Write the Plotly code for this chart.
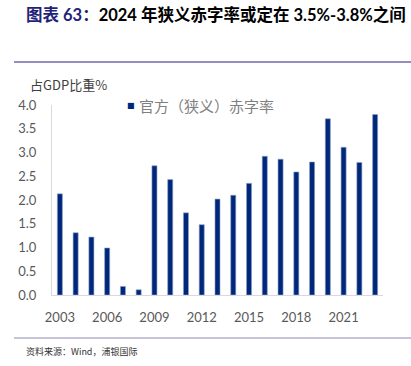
import plotly.graph_objects as go

years = [str(y) for y in range(2003, 2024)]
deficit = [2.13, 1.31, 1.22, 0.99, 0.18, 0.11, 2.72, 2.43, 1.73, 1.48, 2.02, 2.10,
           2.35, 2.92, 2.86, 2.59, 2.80, 3.71, 3.11, 2.79, 3.80]
tick_labels = ["2003", "2006", "2009", "2012", "2015", "2018", "2021"]
y_ticks = [0.0, 0.5, 1.0, 1.5, 2.0, 2.5, 3.0, 3.5, 4.0]

series_name = "官方（狭义）赤字率"
bar_color = "#00287A"
LATIN = "Lato, 'Noto Sans CJK SC', sans-serif"
CJK = "'Noto Sans CJK SC', sans-serif"

fig = go.Figure()
fig.add_trace(go.Bar(
    x=years, y=deficit, name=series_name, showlegend=False,
    marker=dict(color=bar_color, line=dict(color="#8FA0C8", width=0.6)),
))

W, H = 411, 366
L, R, T, B = 52, 28, 105, 71
pw, ph = W - L - R, H - T - B

def px(xp):
    return (xp - L) / pw

def py(yp):
    return (H - B - yp) / ph

fig.update_layout(
    width=W, height=H,
    margin=dict(l=L, r=R, t=T, b=B, autoexpand=False),
    paper_bgcolor="white", plot_bgcolor="white",
    bargap=0.68, showlegend=False,
    title=dict(
        text="<span style='color:#1F2378'>图表 63：</span>2024 年狭义赤字率或定在 3.5%-3.8%之间",
        x=26 / W, xanchor="left", xref="container",
        y=1 - 15 / H, yanchor="middle", yref="container",
        font=dict(family=LATIN, size=16.5, color="#000000", weight="bold"),
    ),
    xaxis=dict(
        type="category", tickmode="array", tickvals=tick_labels, ticktext=tick_labels,
        showgrid=False, showline=True, linecolor="#D9D9D9", linewidth=1,
        ticks="", tickangle=0, tickfont=dict(family=LATIN, size=13, color="#595959"),
        ticklabelstandoff=10,
    ),
    yaxis=dict(
        range=[0, 4], tickvals=y_ticks, tickformat=".1f",
        showgrid=False, zeroline=False, showline=True, linecolor="#D9D9D9", linewidth=1,
        ticks="", tickfont=dict(family=LATIN, size=13, color="#595959"),
        ticklabelstandoff=12,
    ),
    shapes=[
        dict(type="line", xref="paper", yref="paper", x0=px(14), x1=px(411),
             y0=py(62), y1=py(62), line=dict(color="#6E6AAA", width=1.5)),
        dict(type="line", xref="paper", yref="paper", x0=px(14), x1=px(411),
             y0=py(338), y1=py(338), line=dict(color="#B3AFCE", width=1.5)),
    ],
    annotations=[
        dict(text="占GDP比重%", xref="paper", yref="paper", x=px(28), y=py(84),
             xanchor="left", yanchor="middle", showarrow=False,
             font=dict(family=CJK, size=13, color="#404040")),
        # legend
        dict(text="■", xref="paper", yref="paper", x=px(131), y=py(105),
             xanchor="center", yanchor="middle", showarrow=False,
             font=dict(family="DejaVu Sans", size=8, color=bar_color)),
        dict(text=series_name, xref="paper", yref="paper", x=px(137), y=py(105),
             xanchor="left", yanchor="middle", showarrow=False,
             font=dict(family=CJK, size=15, color="#7F7F7F")),
        dict(text="资料来源：Wind，浦银国际", xref="paper", yref="paper", x=px(24), y=py(351),
             xanchor="left", yanchor="middle", showarrow=False,
             font=dict(family=CJK, size=9, color="#333333")),
    ],
)

fig.write_html("out.html", config={"displayModeBar": False},
               post_script="document.body.style.margin='0';document.body.style.padding='0';")
